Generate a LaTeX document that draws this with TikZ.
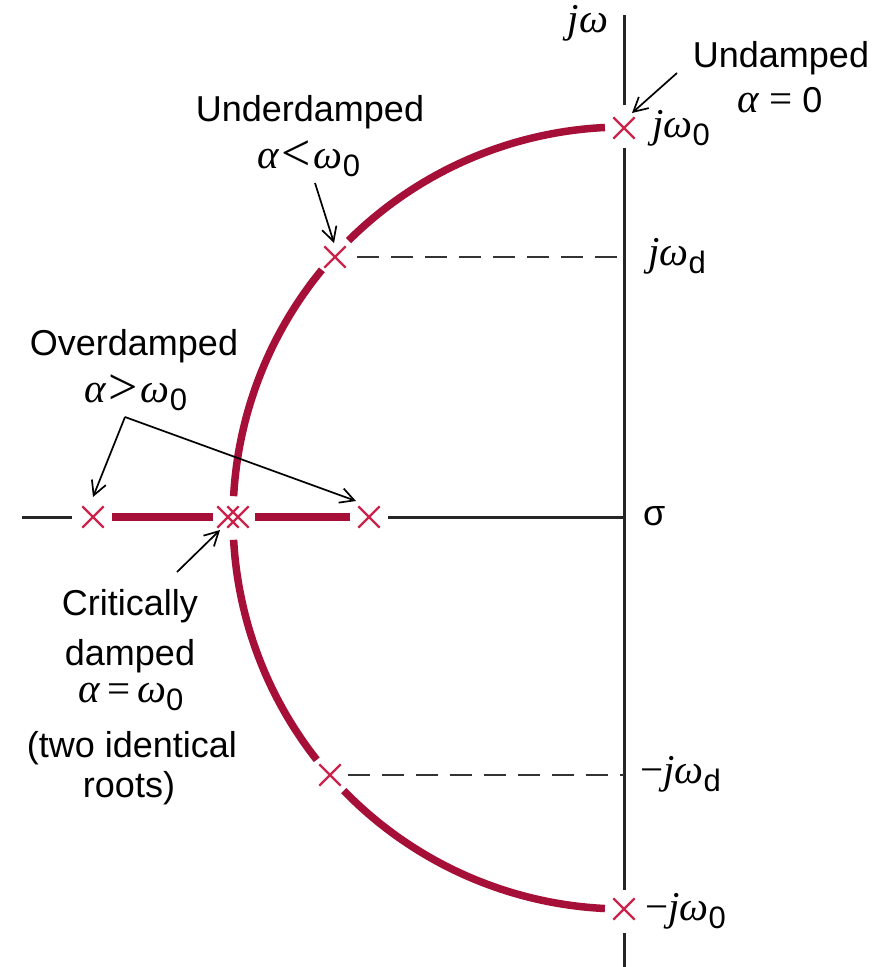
\documentclass[tikz,border=0pt]{standalone}
\usepackage{fontspec}
\setmainfont{Liberation Sans}
\newfontfamily\serifgrk{Liberation Serif}
\usetikzlibrary{arrows.meta,shapes.misc}
\definecolor{rootred}{RGB}{166,16,56}
\definecolor{xred}{RGB}{205,35,75}
\newcommand\mi[1]{{\fontsize{41}{44}\selectfont\serifgrk\itshape #1}}
\newcommand\mr[1]{{\fontsize{41}{44}\selectfont\serifgrk #1}}
\newcommand\rel[1]{\hspace{2pt}\raisebox{-2pt}{\fontsize{52}{44}\selectfont\serifgrk #1}\hspace{3pt}}
\newcommand\sbz[1]{\raisebox{-8pt}{\fontsize{31}{31}\selectfont #1}}
\begin{document}
\begin{tikzpicture}[x=1pt,y=-1pt,
  locus/.style={rootred,line width=7.5pt},
  axisline/.style={black!85,line width=3pt},
  root/.style={cross out,draw=xred,line width=2.3pt,minimum size=19pt,inner sep=0pt},
  lbl/.style={font=\fontsize{36}{44}\selectfont,inner sep=0pt,anchor=base},
  lblw/.style={lbl,anchor=base west},
  ptr/.style={line width=1.7pt,-{Straight Barb[length=14pt,width=15pt,line width=1.7pt]}},
  guide/.style={black!80,line width=2.6pt,dash pattern=on 22pt off 12pt}]
\useasboundingbox (0,0) rectangle (877,967);
% axes
\draw[axisline] (624,15) -- (624,105);
\draw[axisline] (624,148) -- (624,890);
\draw[axisline] (624,933) -- (624,967);
\draw[axisline] (22,517) -- (72,517);
\draw[axisline] (388,517) -- (624,517);
% dashed guides
\draw[guide] (357,257) -- (624,257);
\draw[guide] (348,775) -- (624,775);
% locus arcs (centre (624,518), radius 391)
\draw[locus] ([shift={(624,518)}]267.2:391) arc[start angle=267.2,end angle=225.2,radius=391];
\draw[locus] ([shift={(624,518)}]219.4:391) arc[start angle=219.4,end angle=183.2,radius=391];
\draw[locus] ([shift={(624,518)}]176.8:391) arc[start angle=176.8,end angle=141.8,radius=391];
\draw[locus] ([shift={(624,518)}]135.8:391) arc[start angle=135.8,end angle=92.8,radius=391];
% real-axis locus
\draw[locus] (112,517) -- (213,517);
\draw[locus] (255,517) -- (350,517);
% roots
\node[root] (r0) at (624,128) {};
\node[root] (rud) at (335,257) {};
\node[root] (rod1) at (93,517) {};
\node[root] (rcd1) at (228,517) {};
\node[root] (rcd2) at (238,517) {};
\node[root] (rod2) at (369,517) {};
\node[root] (rld) at (330,775) {};
\node[root] (rm0) at (624,909) {};
% axis labels
\node[lbl] (ljw) at (588,32) {\mi{jω}};
\node[lblw] (lsig) at (643,525) {σ};
\node[lblw] (lj0) at (652,137) {\mi{jω}\sbz{0}};
\node[lblw] (ljd) at (648,265) {\mi{jω}\sbz{d}};
\node[lblw] (lmjd) at (640,783) {\mr{−}\mi{jω}\sbz{d}};
\node[lblw] (lmj0) at (645,920) {\mr{−}\mi{jω}\sbz{0}};
% annotations
\node[lbl] (tun) at (781,67) {Undamped};
\node[lbl] (tun2) at (780,112) {\mi{α} \mr{=} 0};
\node[lbl] (tud) at (310,121) {Underdamped};
\node[lbl] (tud2) at (309,168) {\mi{α}\rel{<}\mi{ω}\sbz{0}};
\node[lbl] (tod) at (134,355) {Overdamped};
\node[lbl] (tod2) at (136,402) {\mi{α}\rel{>}\mi{ω}\sbz{0}};
\node[lbl] (tcd) at (130,615) {Critically};
\node[lbl] (tcd2) at (130,665) {damped};
\node[lbl] (tcd3) at (131,702) {\mi{α}\mr{\,=\,}\mi{ω}\sbz{0}};
\node[lbl] (tcd4) at (132,757) {(two identical};
\node[lbl] (tcd5) at (129,797) {roots)};
% pointers
\coordinate (pun) at (677,73);
\coordinate (pud) at (315,183);
\coordinate (pod) at (125,417);
\coordinate (pcd) at (177,572);
\draw[ptr] (pun) -- (632,113);
\draw[ptr] (pud) -- (334,243);
\draw[ptr] (pod) -- (93,497);
\draw[ptr] (pod) -- (356,501);
\draw[ptr] (pcd) -- (220,530);
\end{tikzpicture}
\end{document}
